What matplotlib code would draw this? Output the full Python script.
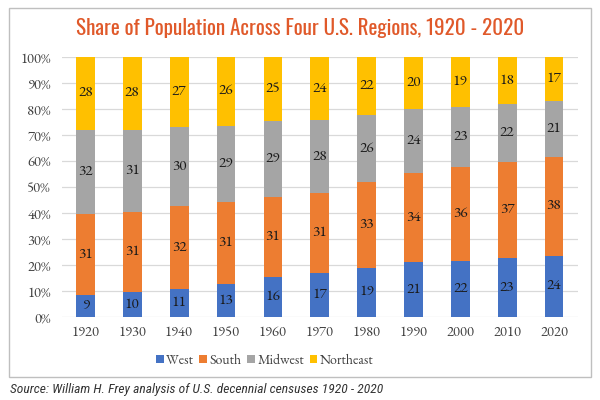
import matplotlib
matplotlib.use("Agg")
import matplotlib.pyplot as plt
import numpy as np
from matplotlib.patches import Rectangle
from matplotlib.font_manager import FontProperties

years = ["1920", "1930", "1940", "1950", "1960", "1970", "1980", "1990", "2000", "2010", "2020"]
regions = ["West", "South", "Midwest", "Northeast"]

# shares (%)
west = [8.6, 9.6, 10.6, 12.7, 15.3, 16.9, 19.0, 21.0, 21.5, 22.6, 23.6]
south = [30.9, 30.9, 32.1, 31.5, 31.0, 30.9, 32.9, 34.5, 36.2, 37.1, 38.1]
midwest = [32.6, 31.6, 30.4, 29.4, 29.0, 27.8, 25.9, 24.4, 23.1, 22.2, 21.2]
northeast = [27.9, 27.9, 26.9, 26.4, 24.7, 24.4, 22.2, 20.1, 19.2, 18.1, 17.1]

# printed labels
west_lbl = [9, 10, 11, 13, 16, 17, 19, 21, 22, 23, 24]
south_lbl = [31, 31, 32, 31, 31, 31, 33, 34, 36, 37, 38]
midwest_lbl = [32, 31, 30, 29, 29, 28, 26, 24, 23, 22, 21]
northeast_lbl = [28, 28, 27, 26, 25, 24, 22, 20, 19, 18, 17]

colors = ["#4472C4", "#ED7D31", "#A5A5A5", "#FFC000"]
serif = ["EB Garamond", "Liberation Serif", "DejaVu Serif"]

fig = plt.figure(figsize=(6, 4), dpi=100)
ax = fig.add_axes([0.1033, 0.2075, 0.8592, 0.65])

x = np.arange(len(years))
bottom = np.zeros(len(years))
series = [(west, west_lbl), (south, south_lbl), (midwest, midwest_lbl), (northeast, northeast_lbl)]
for (vals, lbls), name, c in zip(series, regions, colors):
    vals = np.array(vals)
    ax.bar(x, vals, 0.4, bottom=bottom, color=c, label=name, zorder=3)
    for xi, b, v, l in zip(x, bottom, vals, lbls):
        ax.text(xi, b + v / 2, str(l), ha="center", va="center",
                fontsize=11, family=serif, color="#1a1a1a", zorder=4)
    bottom += vals

ax.set_xlim(-0.5, len(years) - 0.5)
ax.set_ylim(0, 100)
ax.set_yticks(range(0, 101, 10))
ax.set_yticklabels([f"{v}%" for v in range(0, 101, 10)])
ax.set_xticks(x)
ax.set_xticklabels(years)
for lab in ax.get_xticklabels() + ax.get_yticklabels():
    lab.set_family(serif)
    lab.set_fontsize(10.5)
    lab.set_color("#404040")
ax.tick_params(length=0)
ax.tick_params(axis="y", pad=8)
ax.tick_params(axis="x", pad=6)
ax.yaxis.grid(True, color="#D9D9D9", lw=0.9, zorder=0)
for s in ax.spines.values():
    s.set_visible(False)

leg = fig.legend(loc="center", bbox_to_anchor=(265 / 600, 1 - 361 / 400), ncol=4,
                 frameon=False, handlelength=0.55, handleheight=0.55,
                 handletextpad=0.2, columnspacing=0.4,
                 prop=FontProperties(family=serif, size=10))
for t in leg.get_texts():
    t.set_color("#404040")

fig.text(0.5, 1 - 28 / 400, "Share of Population Across Four U.S. Regions, 1920 - 2020",
         ha="center", va="center", fontsize=15.2, fontweight="semibold",
         family=["Oswald", "DejaVu Sans"], color="#E0592A")

fig.text(10 / 600, 1 - 389 / 400,
         "Source: William H. Frey analysis of U.S. decennial censuses 1920 - 2020",
         ha="left", va="center", fontsize=9.7, style="italic",
         family=["Roboto Condensed", "DejaVu Sans"], color="#333333")

fig.patches.append(Rectangle((9 / 600, 1 - 377 / 400), 582 / 600, 369 / 400,
                             transform=fig.transFigure, fill=False,
                             edgecolor="#BFBFBF", lw=1))

fig.savefig("out.png", dpi=100)
